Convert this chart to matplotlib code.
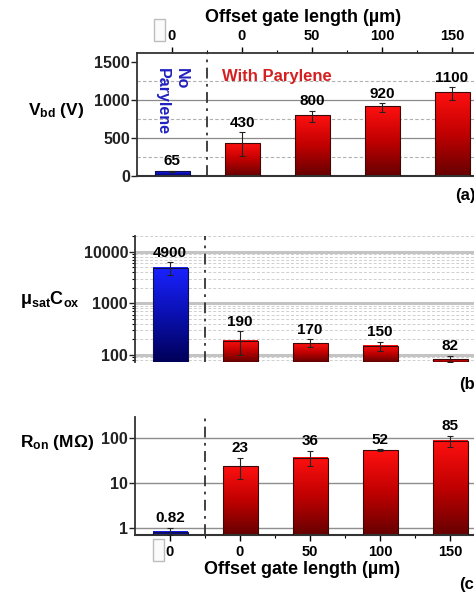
import numpy as np
import matplotlib
matplotlib.use('Agg')
import matplotlib.pyplot as plt
from matplotlib.colors import LinearSegmentedColormap
from matplotlib.patches import Rectangle
from matplotlib.ticker import FixedLocator, NullFormatter, LogLocator

plt.rcParams['font.family'] = ['Liberation Sans', 'DejaVu Sans']
plt.rcParams['font.weight'] = 'bold'
plt.rcParams['mathtext.fontset'] = 'custom'
plt.rcParams['mathtext.rm'] = 'Liberation Sans:bold'
plt.rcParams['mathtext.bf'] = 'Liberation Sans:bold'
plt.rcParams['mathtext.it'] = 'Liberation Sans:bold'

# data
offset_labels = ['0', '0', '50', '100', '150']
vbd = [65, 430, 800, 920, 1100]
vbd_lo = [58, 267, 714, 846, 1000]
vbd_hi = [72, 575, 855, 956, 1167]
mu_cox = [4900, 190, 170, 150, 82]
mu_lo = [3570, 100, 143, 120, 72]
mu_hi = [6300, 288, 200, 179, 97]
ron = [0.82, 23, 36, 52, 85]
ron_lo = [0.70, 12, 23.4, 50, 61]
ron_hi = [1.0, 35.6, 50.8, 55, 109]

W, H = 474, 595
fig = plt.figure(figsize=(W / 100, H / 100), dpi=100)

def fpos(left, top, width, height):
    return [left / W, 1 - (top + height) / H, width / W, height / H]

xs = np.arange(len(vbd))
bw = 0.5
red_cmap = LinearSegmentedColormap.from_list('r', ['#660000', '#c00000', '#ff1010'])
blue_cmap = LinearSegmentedColormap.from_list('b', ['#000058', '#0a10b0', '#1a22ff'])
grad = np.linspace(0, 1, 256).reshape(-1, 1)
spine_col = '#333333'


def grad_bars(ax, vals, base):
    inv = ax.transAxes.inverted()
    for xi, v in zip(xs, vals):
        p0 = inv.transform(ax.transData.transform((xi - bw / 2, base)))
        p1 = inv.transform(ax.transData.transform((xi + bw / 2, v)))
        cmap = blue_cmap if xi == 0 else red_cmap
        ax.imshow(grad, cmap=cmap, extent=[p0[0], p1[0], p0[1], p1[1]],
                  origin='lower', aspect='auto', transform=ax.transAxes,
                  zorder=2, interpolation='bilinear')
    ecs = ['#10104a'] + ['#3a0a0a'] * (len(vals) - 1)
    ax.bar(xs, np.array(vals) - base, bottom=base, width=bw, facecolor='none',
           edgecolor=ecs, linewidth=0.8, zorder=3)


def errs_and_labels(ax, vals, lo, hi, fs=11):
    vals = np.array(vals, dtype=float)
    ax.errorbar(xs, vals, yerr=[vals - np.array(lo), np.array(hi) - vals], fmt='none',
                ecolor='#222222', elinewidth=0.8, capsize=2.5, capthick=0.8, zorder=4)
    for xi, v, h in zip(xs, vals, hi):
        ax.annotate(f'{v:g}', (xi, h), xytext=(0, 2), textcoords='offset points',
                    ha='center', va='bottom', fontsize=fs, fontweight='bold', zorder=5)


def style_axes(ax):
    ax.set_xlim(-0.5, 5.5)
    for s in ax.spines.values():
        s.set_color(spine_col)
        s.set_linewidth(1.3)
    ax.spines['right'].set_visible(False)
    ax.tick_params(axis='y', which='major', length=4, width=1, pad=1, labelsize=11.5,
                   colors='#222222')
    ax.tick_params(axis='y', which='minor', length=2, width=0.8)
    ax.axvline(0.5, color='#333333', lw=1.3, dashes=(6, 3, 1.5, 3), zorder=1)


# ---------------- panel (a) ----------------
ax_a = fig.add_axes(fpos(137, 53, 420, 123))
style_axes(ax_a)
ax_a.set_ylim(0, 1620)
ax_a.spines['bottom'].set_linewidth(1.5)
for y in [500, 1000]:
    ax_a.axhline(y, color='#8a8a8a', lw=0.9, zorder=0)
for y in [250, 750, 1250]:
    ax_a.axhline(y, color='#b0b0b0', lw=0.8, ls=(0, (3, 2)), zorder=0)
grad_bars(ax_a, vbd, 0)
errs_and_labels(ax_a, vbd, vbd_lo, vbd_hi)
ax_a.set_xlim(-0.5, 5.5)
ax_a.set_ylim(0, 1620)
ax_a.yaxis.set_major_locator(FixedLocator([0, 500, 1000, 1500]))
ax_a.xaxis.tick_top()
ax_a.set_xticks(xs)
ax_a.set_xticklabels(offset_labels)
ax_a.set_xticks(xs[:-1] + 0.5, minor=True)
ax_a.tick_params(axis='x', which='major', length=4, width=1, pad=3, labelsize=10.5)
ax_a.tick_params(axis='x', which='minor', length=2, width=0.8)
ax_a.text(1.5, 1310, 'With Parylene', color='#d42020', fontsize=12, fontweight='bold',
          ha='center', va='center')
ax_a.text(0.0, 980, 'No\nParylene', color='#2020c0', fontsize=11.5, fontweight='bold',
          rotation=270, multialignment='left', ha='center', va='center', linespacing=1.3)

# ---------------- panel (b) ----------------
ax_b = fig.add_axes(fpos(135, 236, 420, 126))
style_axes(ax_b)
ax_b.set_yscale('log')
ax_b.set_ylim(73, 20400)
ax_b.spines['top'].set_visible(False)
ax_b.spines['bottom'].set_visible(False)
for y in [100, 1000, 10000]:
    ax_b.axhline(y, color='#c4c4c4', lw=2.2, zorder=0)
minor_b = [80, 90] + [k * 100 for k in range(2, 10)] + [k * 1000 for k in range(2, 10)] + [20000]
for y in minor_b:
    ax_b.axhline(y, color='#cfcfcf', lw=0.7, ls=(0, (3, 2)), zorder=0)
grad_bars(ax_b, mu_cox, 73)
errs_and_labels(ax_b, mu_cox, mu_lo, mu_hi)
ax_b.set_xlim(-0.5, 5.5)
ax_b.set_ylim(73, 20400)
ax_b.yaxis.set_major_locator(FixedLocator([100, 1000, 10000]))
ax_b.set_yticklabels(['100', '1000', '10000'])
ax_b.yaxis.set_minor_locator(LogLocator(subs=np.arange(2, 10)))
ax_b.yaxis.set_minor_formatter(NullFormatter())
ax_b.set_xticks([])

# ---------------- panel (c) ----------------
ax_c = fig.add_axes(fpos(135, 417, 420, 118))
style_axes(ax_c)
ax_c.set_yscale('log')
ax_c.set_ylim(0.69, 286)
ax_c.spines['top'].set_visible(False)
ax_c.spines['bottom'].set_linewidth(1.5)
for y in [1, 10, 100]:
    ax_c.axhline(y, color='#8e8e8e', lw=1.0, zorder=0)
grad_bars(ax_c, ron, 0.69)
errs_and_labels(ax_c, ron, ron_lo, ron_hi)
ax_c.set_xlim(-0.5, 5.5)
ax_c.set_ylim(0.69, 286)
ax_c.yaxis.set_major_locator(FixedLocator([1, 10, 100]))
ax_c.set_yticklabels(['1', '10', '100'])
ax_c.yaxis.set_minor_locator(LogLocator(subs=np.arange(2, 10)))
ax_c.yaxis.set_minor_formatter(NullFormatter())
ax_c.tick_params(axis='y', which='minor', length=0)
ax_c.set_xticks(xs)
ax_c.set_xticklabels(offset_labels)
ax_c.set_xticks(xs[:-1] + 0.5, minor=True)
ax_c.tick_params(axis='x', which='major', length=4, width=1, pad=3, labelsize=10.5)
ax_c.tick_params(axis='x', which='minor', length=2, width=0.8)

# ---------------- figure texts ----------------
def ftext(px, py, s, **kw):
    fig.text(px / W, 1 - py / H, s, **kw)

ftext(303, 18, 'Offset gate length (µm)', fontsize=13, fontweight='bold', ha='center', va='center')
ftext(302, 569, 'Offset gate length (µm)', fontsize=13, fontweight='bold', ha='center', va='center')
ftext(56, 110, r'$\mathbf{V_{bd}}$ (V)', fontsize=12.5, fontweight='bold', ha='center', va='center')
ftext(50, 300, r'$\mathbf{μ_{sat}C_{ox}}$', fontsize=13, fontweight='bold', ha='center', va='center')
ftext(57, 443, r'$\mathbf{R_{on}}$ (MΩ)', fontsize=12.5, fontweight='bold', ha='center', va='center')
ftext(455, 196, '(a)', fontsize=12, fontweight='bold', ha='left', va='center')
ftext(459, 385, '(b)', fontsize=12, fontweight='bold', ha='left', va='center')
ftext(459, 585, '(c)', fontsize=12, fontweight='bold', ha='left', va='center')

# empty glyph boxes next to the first tick labels
for bx, by in [(154, 19), (153, 539)]:
    fig.patches.append(Rectangle((bx / W, 1 - (by + 22) / H), 11 / W, 22 / H,
                                 transform=fig.transFigure, facecolor='#fbfbfb',
                                 edgecolor='#bdbdbd', lw=1.0))

fig.savefig('out.png', dpi=100)
